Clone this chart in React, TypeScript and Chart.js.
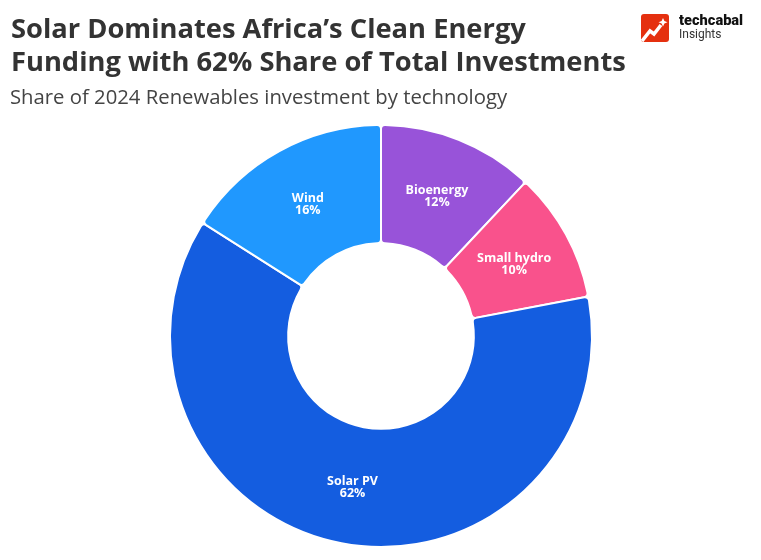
import { useEffect, useRef } from "react";
import { Chart, registerables } from "chart.js";

Chart.register(...registerables);

const categories = ["Bioenergy", "Small hydro", "Solar PV", "Wind"];
const shares = [12, 10, 62, 16];
const sliceColors = ["#9853d9", "#f9528c", "#145de0", "#2098fe"];

// draws "name / xx%" in the middle of every slice
const sliceLabels = {
  id: "sliceLabels",
  afterDatasetsDraw(chart: Chart) {
    const { ctx } = chart;
    const arcs = chart.getDatasetMeta(0).data;
    ctx.save();
    ctx.fillStyle = "#ffffff";
    ctx.textAlign = "center";
    ctx.textBaseline = "middle";
    ctx.font = "700 12.5px 'Open Sans'";
    arcs.forEach((arc, i) => {
      const { x, y } = arc.tooltipPosition(false);
      ctx.fillText(categories[i], x, y - 4);
      ctx.fillText(shares[i] + "%", x, y + 8);
    });
    ctx.restore();
  },
};

function Logo() {
  return (
    <svg width="28" height="28" viewBox="0 0 28 28" style={{ position: "absolute", left: 641, top: 14 }}>
      <rect width="28" height="28" rx="3" fill="#e5300f" />
      <path d="M1 27 L9 17 L13 20 L20 11" fill="none" stroke="#ffffff" strokeWidth="3.5" />
      <path d="M22 4 L23.4 7 L26.5 8.2 L23.4 9.4 L22 12.5 L20.6 9.4 L17.5 8.2 L20.6 7 Z" fill="#ffffff" />
    </svg>
  );
}

export default function App() {
  const chartRef = useRef<HTMLCanvasElement>(null);

  useEffect(() => {
    if (!chartRef.current) return;
    const chart = new Chart(chartRef.current, {
      type: "doughnut",
      data: {
        labels: categories,
        datasets: [
          {
            data: shares,
            backgroundColor: sliceColors,
            borderColor: "#ffffff",
            borderWidth: 2,
            borderRadius: 4,
          },
        ],
      },
      options: {
        animation: false,
        responsive: false,
        cutout: "44%",
        layout: { padding: { top: 124, bottom: 12, left: 1, right: 0 } },
        plugins: { legend: { display: false }, tooltip: { enabled: false } },
      },
      plugins: [sliceLabels],
    });
    return () => chart.destroy();
  }, []);

  return (
    <div style={{ position: "absolute", left: 0, top: 0, width: 761, height: 560, background: "#fff", fontFamily: "'Open Sans'" }}>
      <canvas ref={chartRef} width={761} height={560} style={{ position: "absolute", left: 0, top: 0 }} />
      <div style={{ position: "absolute", left: 11, top: 11, fontSize: 27.3, lineHeight: "33px", fontWeight: 700, color: "#333333", whiteSpace: "nowrap" }}>
        Solar Dominates Africa’s Clean Energy
        <br />
        Funding with 62% Share of Total Investments
      </div>
      <div style={{ position: "absolute", left: 10, top: 82, fontSize: 20.3, lineHeight: "28px", color: "#444444", whiteSpace: "nowrap" }}>
        Share of 2024 Renewables investment by technology
      </div>
      <Logo />
      <div style={{ position: "absolute", left: 679, top: 13, fontFamily: "Roboto", fontSize: 14.6, lineHeight: "14px", fontWeight: 900, color: "#111111" }}>techcabal</div>
      <div style={{ position: "absolute", left: 679, top: 27, fontFamily: "Roboto", fontSize: 12, lineHeight: "14px", color: "#333333" }}>Insights</div>
    </div>
  );
}
